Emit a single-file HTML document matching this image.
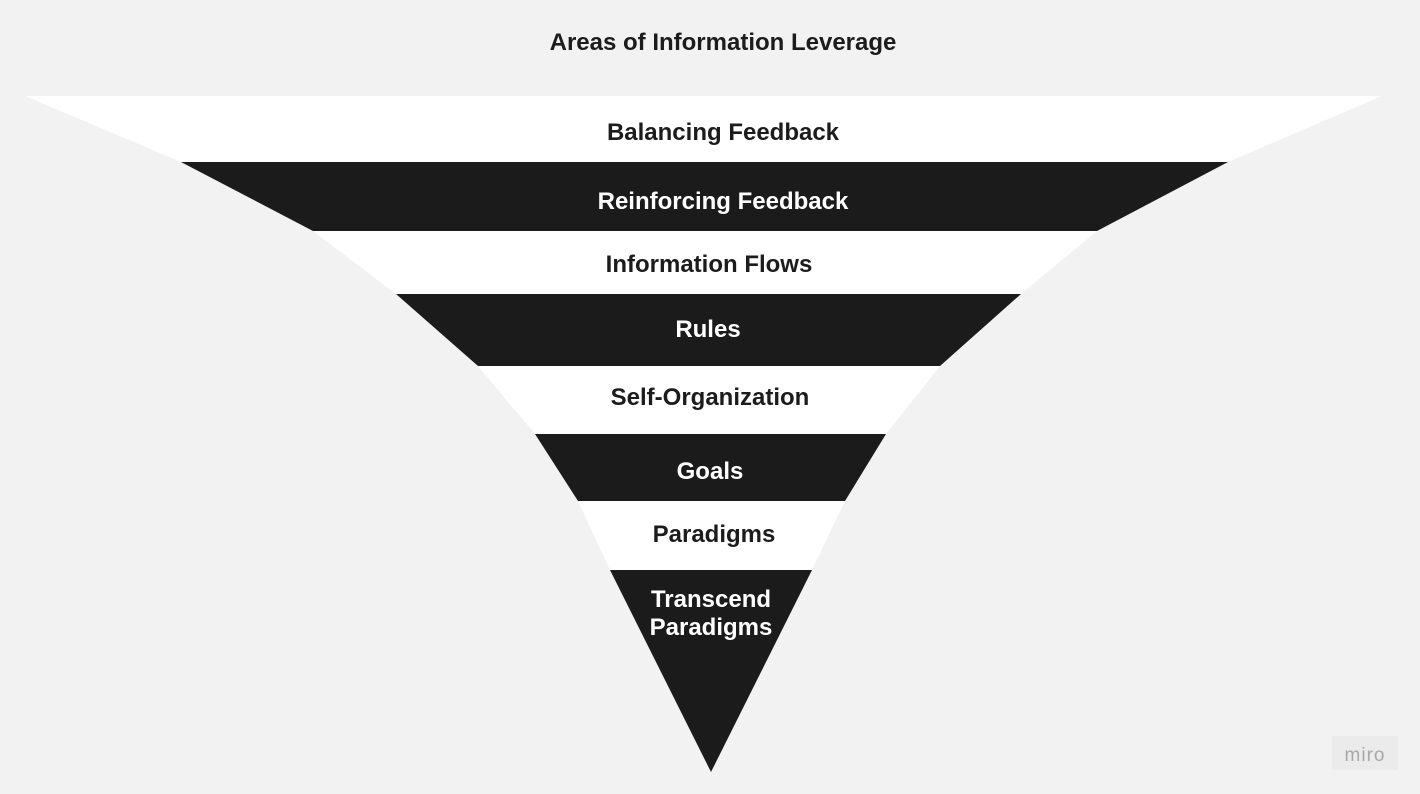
<!DOCTYPE html>
<html><head><meta charset="utf-8"><style>
html,body{margin:0;padding:0;background:#f2f2f2;}
svg{display:block}
text{font-family:"Liberation Sans",Arial,sans-serif;font-weight:bold;font-size:24px;text-anchor:middle}
</style></head><body>
<svg width="1420" height="794" viewBox="0 0 1420 794">
<rect width="1420" height="794" fill="#f2f2f2"/>
<text x="723" y="50" fill="#1c1c1c">Areas of Information Leverage</text>
<polygon points="25,96 1382,96 1228,162 181,162" fill="#ffffff"/>
<polygon points="181,162 1228,162 1097,231 313,231" fill="#1b1b1b"/>
<polygon points="313,231 1097,231 1021,294 396,294" fill="#ffffff"/>
<polygon points="396,294 1021,294 940,366 478,366" fill="#1b1b1b"/>
<polygon points="478,366 940,366 886,434 535,434" fill="#ffffff"/>
<polygon points="535,434 886,434 845,501 578,501" fill="#1b1b1b"/>
<polygon points="578,501 845,501 812,570 610,570" fill="#ffffff"/>
<polygon points="610,570 812,570 711,772" fill="#1b1b1b"/>
<text x="723" y="140" fill="#1c1c1c">Balancing Feedback</text>
<text x="723" y="209" fill="#ffffff">Reinforcing Feedback</text>
<text x="709" y="272" fill="#1c1c1c">Information Flows</text>
<text x="708" y="337" fill="#ffffff">Rules</text>
<text x="710" y="405" fill="#1c1c1c">Self-Organization</text>
<text x="710" y="479" fill="#ffffff">Goals</text>
<text x="714" y="542" fill="#1c1c1c">Paradigms</text>
<text x="711" y="607" fill="#ffffff">Transcend</text>
<text x="711" y="635" fill="#ffffff">Paradigms</text>
<rect x="1332" y="736" width="66" height="34" fill="#ebebeb"/>
<text x="1365" y="761" fill="#a8a8a8" style="font-weight:normal;font-size:19px;letter-spacing:1px">miro</text>
</svg>
</body></html>
